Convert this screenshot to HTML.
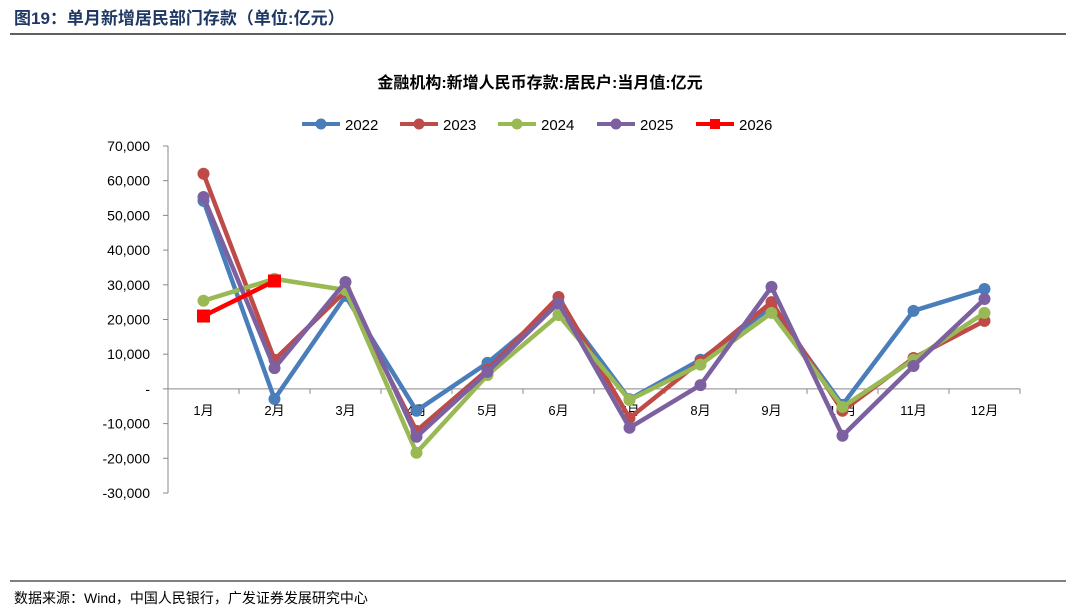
<!DOCTYPE html>
<html><head><meta charset="utf-8">
<style>
body{margin:0;background:#fff;width:1080px;height:610px;overflow:hidden;font-family:"Liberation Sans","Noto Sans CJK SC",sans-serif;}
svg text{font-family:"Liberation Sans","Noto Sans CJK SC",sans-serif;}
</style></head>
<body>
<svg id="chart" width="1080" height="610">
  <text x="14" y="24" font-size="17" font-weight="bold" fill="#1f3864">图19：单月新增居民部门存款（单位:亿元）</text>
  <line x1="10" y1="34" x2="1066" y2="34" stroke="#000" stroke-width="1.2"/>
  <text x="540" y="88" font-size="16" font-weight="bold" text-anchor="middle" fill="#000">金融机构:新增人民币存款:居民户:当月值:亿元</text>
  <g id="legend"></g>
  <g id="axes"></g>
  <g id="series"></g>
  <line x1="10" y1="581" x2="1066" y2="581" stroke="#000" stroke-width="1"/>
  <text x="14" y="603" font-size="14" fill="#000">数据来源：Wind，中国人民银行，广发证券发展研究中心</text>
</svg>
<script>
const categories=["1月","2月","3月","4月","5月","6月","7月","8月","9月","10月","11月","12月"];
const yTicks=[-30000,-20000,-10000,0,10000,20000,30000,40000,50000,60000,70000];
const yTickLabels=["-30,000","-20,000","-10,000","-","10,000","20,000","30,000","40,000","50,000","60,000","70,000"];
const seriesNames=["2022","2023","2024","2025","2026"];
const seriesColors=["#4a7ebb","#be4b48","#98b954","#7d60a0","#ff0000"];
const s2022=[54200,-2900,26800,-6300,7500,24500,-3000,8400,23600,-4600,22500,28800];
const s2023=[62000,8400,28200,-12100,5500,26500,-8400,8000,25000,-6300,8900,19600];
const s2024=[25400,31700,28500,-18400,4000,21300,-3200,7000,21900,-5200,8400,21900];
const s2025=[55300,6000,30800,-13800,4900,24800,-11200,1100,29400,-13500,6600,25900];
const s2026=[21000,31100];
const allSeries=[s2022,s2023,s2024,s2025,s2026];

const NS="http://www.w3.org/2000/svg";
const yMin=-30000,yMax=70000,yTop=146,yBot=493;
const xLeft=168,xStep=71;
function yS(v){return yBot-(v-yMin)/(yMax-yMin)*(yBot-yTop);}
function xS(i){return xLeft+xStep*(i+0.5);}
function mk(tag,attrs,parent){const e=document.createElementNS(NS,tag);for(const k in attrs)e.setAttribute(k,attrs[k]);parent.appendChild(e);return e;}

const axes=document.getElementById('axes');
let a=mk('line',{x1:xLeft,y1:yTop,x2:xLeft,y2:yBot,stroke:'#888','stroke-width':1},axes);


yTicks.forEach((t,i)=>{
  const y=yS(t);
  const tk=mk('line',{x1:xLeft-5,y1:y,x2:xLeft,y2:y,stroke:'#888'},axes);
  
  
  const tx=mk('text',{x:xLeft-18,y:y+5,'font-size':14,'text-anchor':'end',fill:'#000'},axes);
  tx.textContent=yTickLabels[i];
  
  
});
const y0=yS(0);
let xa=mk('line',{x1:xLeft,y1:y0,x2:xLeft+xStep*categories.length,y2:y0,stroke:'#888','stroke-width':1},axes);


for(let i=0;i<=categories.length;i++){
  const tk=mk('line',{x1:xLeft+xStep*i,y1:y0,x2:xLeft+xStep*i,y2:y0+5,stroke:'#888'},axes);
  
  
}
categories.forEach((c,i)=>{
  const tx=mk('text',{x:xS(i),y:y0+26,'font-size':13,'text-anchor':'middle',fill:'#000'},axes);
  tx.textContent=c;
  
  
});

const sg=document.getElementById('series');
allSeries.forEach((d,si)=>{
  const g=mk('g',{},sg);
  
  
  const pts=d.map((v,i)=>xS(i)+','+yS(v)).join(' ');
  const pl=mk('polyline',{points:pts,fill:'none',stroke:seriesColors[si],'stroke-width':4.5,'stroke-linejoin':'round'},g);
  
  
  d.forEach((v,i)=>{
    let m;
    if(si===4){m=mk('rect',{x:xS(i)-6.5,y:yS(v)-6.5,width:13,height:13,fill:seriesColors[si]},g);}
    else{m=mk('circle',{cx:xS(i),cy:yS(v),r:6,fill:seriesColors[si]},g);}
    
    
  });
});

const lg=document.getElementById('legend');
const lx=[302,400,498,597,696];
seriesNames.forEach((n,i)=>{
  const g=mk('g',{},lg);
  
  
  mk('line',{x1:lx[i],y1:124,x2:lx[i]+38,y2:124,stroke:seriesColors[i],'stroke-width':4},g);
  if(i===4)mk('rect',{x:lx[i]+14,y:119,width:10,height:10,fill:seriesColors[i]},g);
  else mk('circle',{cx:lx[i]+19,cy:124,r:5.5,fill:seriesColors[i]},g);
  const t=mk('text',{x:lx[i]+43,y:130,'font-size':15,fill:'#000'},g);
  t.textContent=n;
});
</script>
</body></html>
